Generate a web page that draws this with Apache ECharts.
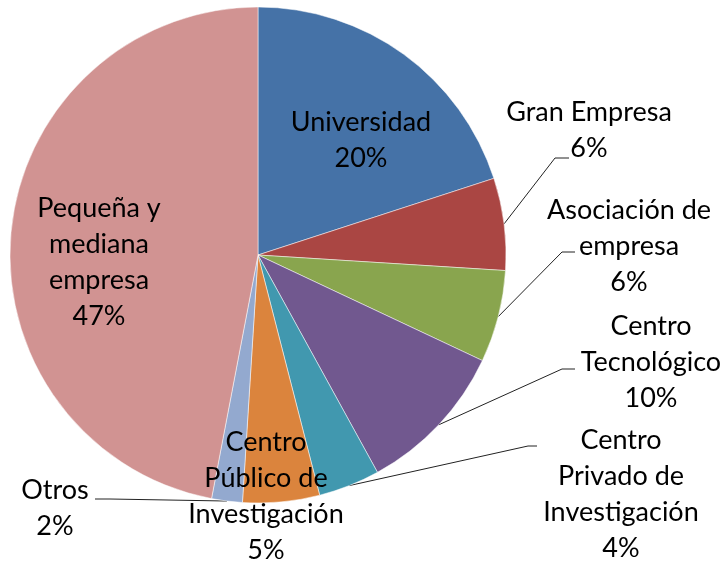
<!DOCTYPE html>
<html>
<head>
<meta charset="utf-8">
<script src="https://cdn.jsdelivr.net/npm/echarts@6/dist/echarts.min.js"></script>
<style>
  html, body { margin: 0; background: #fff; }
  #chart { width: 727px; height: 563px; }
</style>
</head>
<body>
<div id="chart"></div>
<script>
const categories = [
  'Universidad',
  'Gran Empresa',
  'Asociación de\nempresa',
  'Centro\nTecnológico',
  'Centro\nPrivado de\nInvestigación',
  'Centro\nPúblico de\nInvestigación',
  'Otros',
  'Pequeña y\nmediana\nempresa'
];
const values = [20, 6, 6, 10, 4, 5, 2, 47];
const colors = ['#4572A7', '#AA4643', '#89A54E', '#71588F', '#4198AF', '#DB843D', '#93A9CF', '#D19392'];

// where each label block is centred, and the bend/end of its leader line (null = no line)
const labelPos = [
  { c: [361, 140], line: null },
  { c: [589, 130], line: [[555, 158], [569, 158]] },
  { c: [629, 246], line: [[562, 252], [575, 252]] },
  { c: [651, 362], line: [[562, 369], [575, 369]] },
  { c: [621, 494], line: [[528, 446], [537, 446]] },
  { c: [266, 496], line: null },
  { c: [55, 508], line: [[110, 499], [95, 499]] },
  { c: [99, 262], line: null }
];

const chart = echarts.init(document.getElementById('chart'));

const data = categories.map((name, i) => ({
  name: name,
  value: values[i],
  itemStyle: { color: colors[i] },
  labelLine: { show: !!labelPos[i].line }
}));

const option = {
  animation: false,
  series: [
    {
      type: 'pie',
      center: [258, 255],
      radius: 248,
      startAngle: 90,
      clockwise: true,
      avoidLabelOverlap: false,
      data: data,
      itemStyle: {
        borderColor: '#fff',
        borderWidth: 0.5
      },
      label: {
        show: true,
        position: 'outside',
        fontFamily: 'Lato',
        fontSize: 27,
        lineHeight: 36,
        color: '#000',
        formatter: (p) => p.name + '\n' + p.value + '%'
      },
      labelLine: {
        show: true,
        lineStyle: { color: '#222', width: 1 }
      },
      labelLayout: (params) => {
        const pos = labelPos[params.dataIndex];
        const out = {
          x: pos.c[0],
          y: pos.c[1],
          align: 'center',
          verticalAlign: 'middle'
        };
        if (pos.line && params.labelLinePoints) {
          out.labelLinePoints = [params.labelLinePoints[0], pos.line[0], pos.line[1]];
        }
        return out;
      }
    }
  ]
};

option && chart.setOption(option);
window.addEventListener('resize', function () {
  chart.resize();
});
</script>
</body>
</html>
